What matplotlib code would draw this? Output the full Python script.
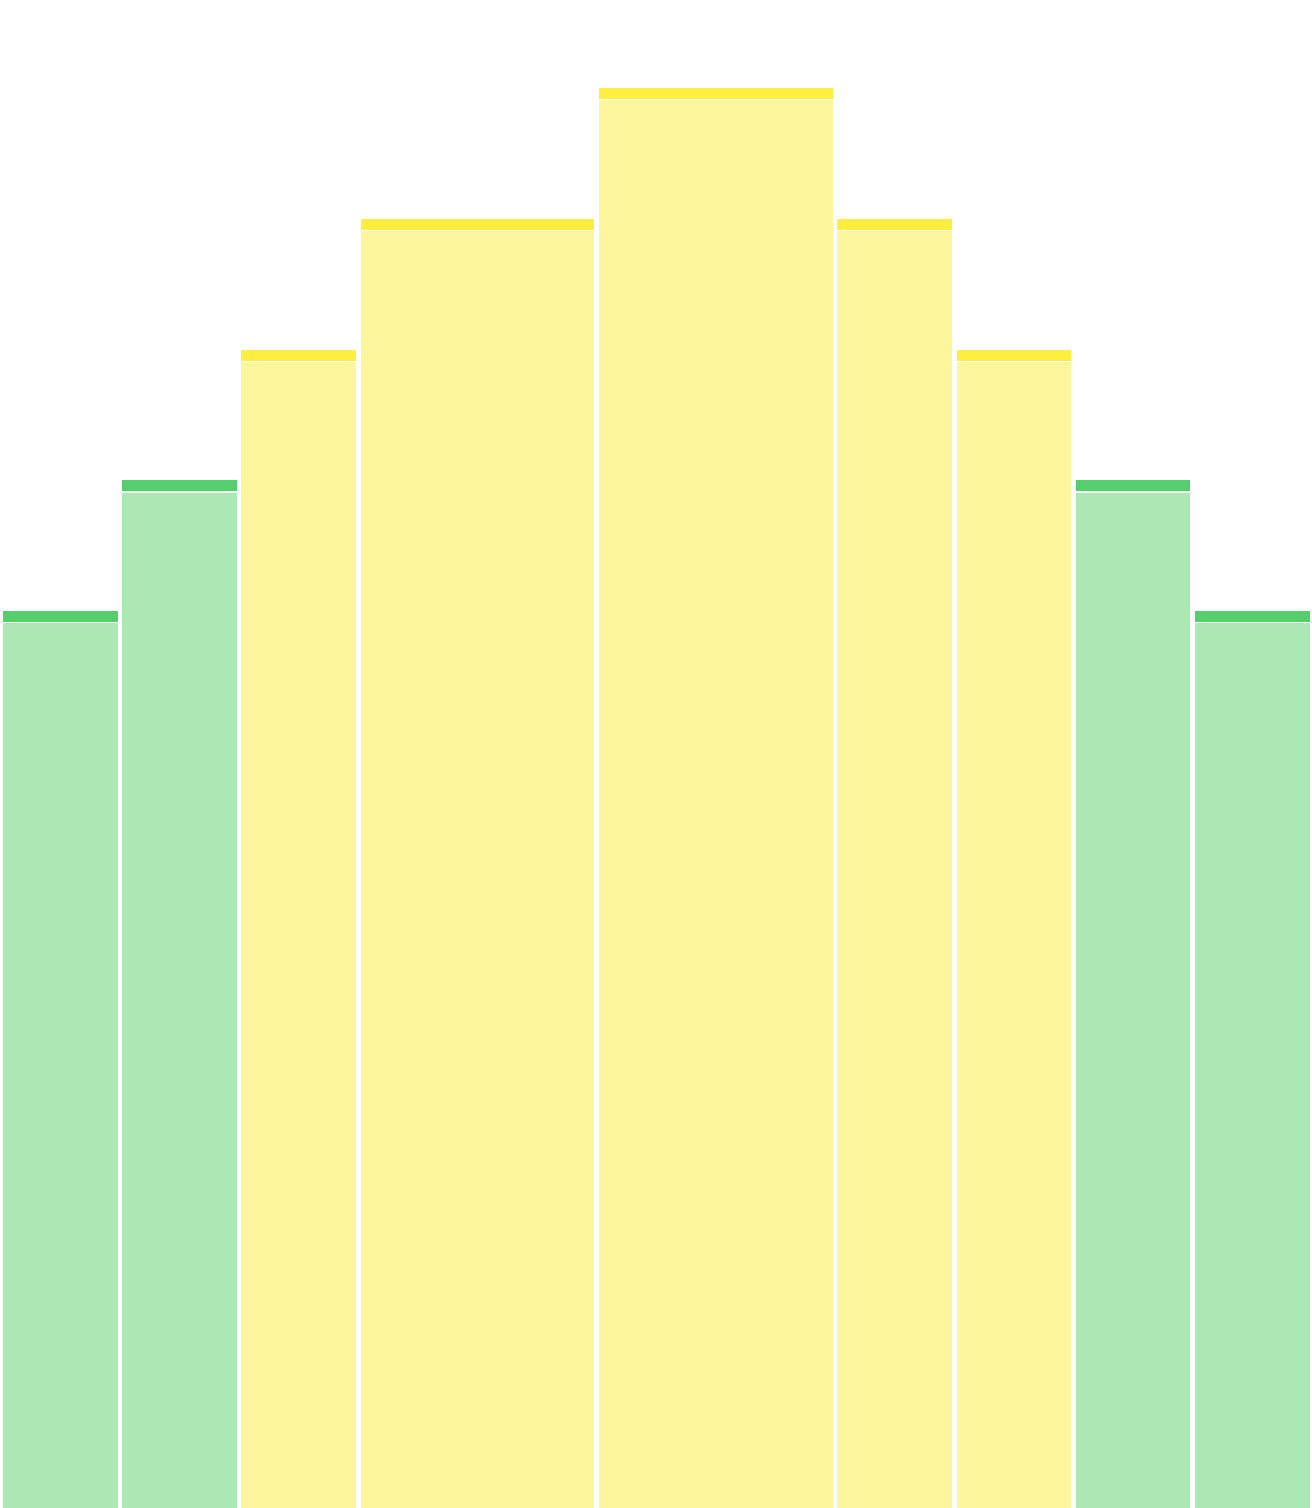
import matplotlib
matplotlib.use("Agg")
import matplotlib.pyplot as plt

# bins (left edge, width in units) and bar heights
lefts = [0, 1, 2, 3, 5, 7, 8, 9, 10]
widths = [1, 1, 1, 2, 2, 1, 1, 1, 1]
values = [7, 8, 9, 10, 11, 10, 9, 8, 7]
groups = ["green", "green", "yellow", "yellow", "yellow", "yellow", "yellow", "green", "green"]

fill_colors = {"green": "#abe8b4", "yellow": "#fdf69c"}
cap_colors = {"green": "#55cf6c", "yellow": "#ffee3f"}

px_x = 119.2   # pixels per x unit
px_y = 130.75  # pixels per y unit
gap = 4.6 / px_x
cap = 11 / px_y
cap_gap = 1.2 / px_y
y_lo = 0.14

fig = plt.figure(figsize=(13.12, 15.08), dpi=100)
ax = fig.add_axes([0, 0, 1, 1])

for left, w, v, g in zip(lefts, widths, values, groups):
    ax.bar(left, v - cap - cap_gap - y_lo, width=w - gap, bottom=y_lo,
           align="edge", color=fill_colors[g], linewidth=0)
    ax.bar(left, cap, width=w - gap, bottom=v - cap,
           align="edge", color=cap_colors[g], linewidth=0)

x0 = -3 / px_x
ax.set_xlim(x0, x0 + 1312 / px_x)
ax.set_ylim(y_lo, y_lo + 1508 / px_y)
ax.axis("off")

fig.savefig("out.png", dpi=100, facecolor="white")
